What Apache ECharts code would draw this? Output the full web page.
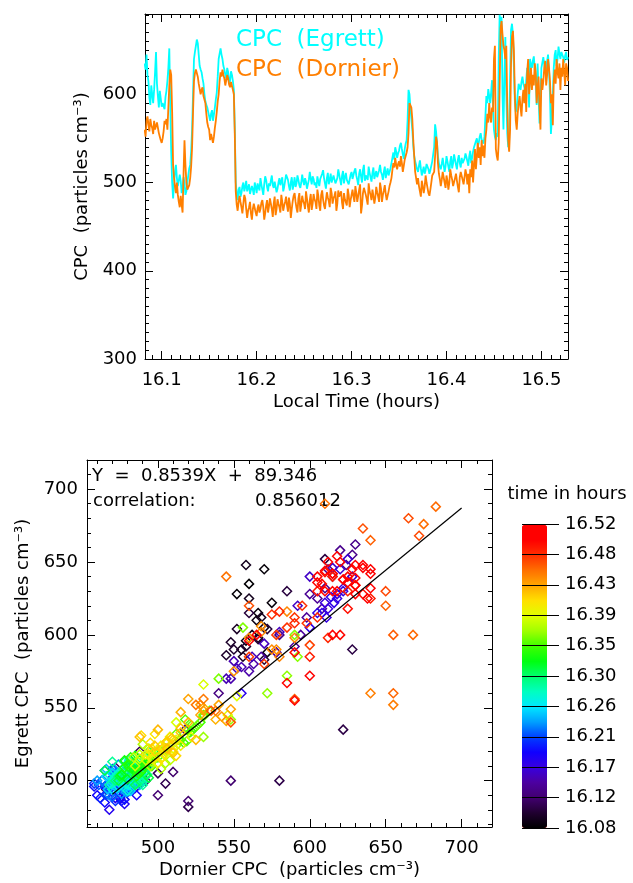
<!DOCTYPE html>
<html>
<head>
<meta charset="utf-8">
<script src="https://cdn.jsdelivr.net/npm/echarts@6/dist/echarts.min.js"></script>
<style>
  html, body { margin: 0; background: #fff; }
  #chart { width: 633px; height: 883px; }
</style>
</head>
<body>
<div id="chart"></div>
<script>
// local time of each sample (hours)
const times = [
  16.082,16.083,16.084,16.085,16.086,16.087,16.088,16.089,16.090,16.091,16.092,16.093,16.094,16.095,16.096,16.097,16.098,16.099,16.100,16.101,
  16.102,16.103,16.104,16.105,16.106,16.107,16.108,16.109,16.110,16.111,16.112,16.113,16.114,16.115,16.116,16.117,16.118,16.119,16.120,16.121,
  16.122,16.123,16.124,16.125,16.126,16.127,16.128,16.129,16.130,16.131,16.132,16.133,16.134,16.135,16.136,16.137,16.138,16.139,16.140,16.141,
  16.142,16.143,16.144,16.145,16.146,16.147,16.148,16.149,16.150,16.151,16.152,16.153,16.154,16.155,16.156,16.157,16.158,16.159,16.160,16.161,
  16.162,16.163,16.164,16.165,16.166,16.167,16.168,16.169,16.170,16.171,16.172,16.173,16.174,16.175,16.176,16.177,16.178,16.179,16.180,16.181,
  16.182,16.183,16.184,16.185,16.186,16.187,16.188,16.189,16.190,16.191,16.192,16.193,16.194,16.195,16.196,16.197,16.198,16.199,16.200,16.201,
  16.202,16.203,16.204,16.205,16.206,16.207,16.208,16.209,16.210,16.211,16.212,16.213,16.214,16.215,16.216,16.217,16.218,16.219,16.220,16.221,
  16.222,16.223,16.224,16.225,16.226,16.227,16.228,16.229,16.230,16.231,16.232,16.233,16.234,16.235,16.236,16.237,16.238,16.239,16.240,16.241,
  16.242,16.243,16.244,16.245,16.246,16.247,16.248,16.249,16.250,16.251,16.252,16.253,16.254,16.255,16.256,16.257,16.258,16.259,16.260,16.261,
  16.262,16.263,16.264,16.265,16.266,16.267,16.268,16.269,16.270,16.271,16.272,16.273,16.274,16.275,16.276,16.277,16.278,16.279,16.280,16.281,
  16.282,16.283,16.284,16.285,16.286,16.287,16.288,16.289,16.290,16.291,16.292,16.293,16.294,16.295,16.296,16.297,16.298,16.299,16.300,16.301,
  16.302,16.303,16.304,16.305,16.306,16.307,16.308,16.309,16.310,16.311,16.312,16.313,16.314,16.315,16.316,16.317,16.318,16.319,16.320,16.321,
  16.322,16.323,16.324,16.325,16.326,16.327,16.328,16.329,16.330,16.331,16.332,16.333,16.334,16.335,16.336,16.337,16.338,16.339,16.340,16.341,
  16.342,16.343,16.344,16.345,16.346,16.347,16.348,16.349,16.350,16.351,16.352,16.353,16.354,16.355,16.356,16.357,16.358,16.359,16.360,16.361,
  16.362,16.363,16.364,16.365,16.366,16.367,16.368,16.369,16.370,16.371,16.372,16.373,16.374,16.375,16.376,16.377,16.378,16.379,16.380,16.381,
  16.382,16.383,16.384,16.385,16.386,16.387,16.388,16.389,16.390,16.391,16.392,16.393,16.394,16.395,16.396,16.397,16.398,16.399,16.400,16.401,
  16.402,16.403,16.404,16.405,16.406,16.407,16.408,16.409,16.410,16.411,16.412,16.413,16.414,16.415,16.416,16.417,16.418,16.419,16.420,16.421,
  16.422,16.423,16.424,16.425,16.426,16.427,16.428,16.429,16.430,16.431,16.432,16.433,16.434,16.435,16.436,16.437,16.438,16.439,16.440,16.441,
  16.442,16.443,16.444,16.445,16.446,16.447,16.448,16.449,16.450,16.451,16.452,16.453,16.454,16.455,16.456,16.457,16.458,16.459,16.460,16.461,
  16.462,16.463,16.464,16.465,16.466,16.467,16.468,16.469,16.470,16.471,16.472,16.473,16.474,16.475,16.476,16.477,16.478,16.479,16.480,16.481,
  16.482,16.483,16.484,16.485,16.486,16.487,16.488,16.489,16.490,16.491,16.492,16.493,16.494,16.495,16.496,16.497,16.498,16.499,16.500,16.501,
  16.502,16.503,16.504,16.505,16.506,16.507,16.508,16.509,16.510,16.511,16.512,16.513,16.514,16.515,16.516,16.517,16.518,16.519,16.520,16.521,
  16.522,16.523,16.524,16.525,16.526,16.527,16.528
];

// CPC on the Egrett (particles cm-3)
const egrett = [
  635,628,645,622,615,596,588,610,600,590,605,625,648,612,598,585,604,595,586,590,
  592,583,597,604,615,630,652,590,535,500,482,498,512,520,505,496,498,509,502,488,
  494,506,500,486,490,500,508,516,520,535,560,600,640,648,655,662,658,645,632,628,
  625,618,612,600,592,588,585,580,575,570,578,582,570,577,585,594,602,620,640,646,
  652,645,640,632,628,622,618,630,625,612,615,626,622,615,605,560,500,488,480,492,
  495,484,488,496,500,490,495,502,490,494,498,487,485,496,492,486,500,495,488,499,
  497,491,505,498,492,486,498,507,503,495,490,499,496,502,508,497,494,501,500,489,
  493,500,505,497,498,506,490,495,502,509,511,503,496,491,500,506,492,498,506,495,
  499,508,503,497,494,500,509,502,497,505,501,493,495,503,512,504,498,507,504,497,
  500,494,507,501,496,504,503,510,514,505,499,493,505,511,498,503,510,500,502,508,
  506,499,497,505,515,509,503,497,508,513,499,506,511,503,504,498,500,509,512,504,
  505,513,516,508,503,497,510,515,507,500,514,520,502,508,509,503,518,511,506,501,
  511,517,504,509,513,506,507,514,520,512,509,503,512,518,505,511,516,508,510,516,
  522,528,534,526,540,535,528,533,536,542,545,538,532,527,538,544,548,570,605,600,
  585,572,560,542,530,524,520,515,512,519,525,516,508,513,518,510,514,521,522,515,
  510,514,519,524,526,540,566,558,545,530,522,518,515,521,528,520,512,518,530,524,
  518,512,524,530,516,522,532,526,520,515,526,531,522,517,528,522,520,527,533,529,
  524,519,530,536,522,528,535,540,542,547,550,541,545,552,556,549,548,544,552,575,
  598,590,606,598,590,602,616,585,560,552,548,556,552,640,690,676,688,600,560,620,
  665,600,556,540,548,620,673,680,668,630,593,580,585,600,612,608,605,614,620,612,
  608,598,616,630,625,585,640,634,630,638,643,628,618,588,635,600,567,596,630,636,
  642,634,625,630,638,645,628,600,555,572,600,630,645,650,632,640,654,646,640,648,
  650,642,636,644,648,639,642
];

// CPC on the Dornier (particles cm-3)
const dornier = [
  560,552,570,575,566,558,572,565,562,555,570,560,558,568,566,556,552,548,545,550,
  558,570,566,572,560,585,610,628,622,580,520,505,495,488,500,486,478,472,485,475,
  466,510,548,520,500,492,490,497,505,518,540,580,615,624,628,630,620,612,610,600,
  605,608,598,594,590,578,568,563,560,548,555,550,545,552,562,570,580,592,600,615,
  625,620,628,622,618,610,612,622,618,611,608,614,616,605,600,555,490,475,468,478,
  485,478,472,465,476,486,482,470,460,468,472,478,465,458,470,476,478,466,462,471,
  475,466,470,477,480,472,458,465,474,480,466,473,482,476,470,461,476,484,463,470,
  481,476,472,466,486,478,468,474,478,484,474,467,483,476,460,470,479,485,488,478,
  471,466,482,488,467,475,485,479,476,470,490,482,473,466,480,487,469,476,487,481,
  478,470,492,485,474,468,486,491,481,474,470,480,489,483,479,472,494,488,476,482,
  485,490,468,476,491,484,483,490,477,470,488,481,480,474,493,486,472,480,486,492,
  484,478,496,488,478,485,492,498,465,474,488,494,494,486,481,475,499,490,486,480,
  492,485,476,483,495,489,484,478,500,493,478,486,491,497,487,480,482,490,496,500,
  505,514,522,517,528,520,515,521,524,518,530,522,512,519,526,530,534,540,556,590,
  592,585,572,548,530,512,505,498,505,496,490,484,502,496,488,495,508,500,494,488,
  485,492,500,508,506,512,530,552,546,522,510,504,496,503,512,506,500,494,508,502,
  492,500,515,508,503,496,498,505,510,502,495,489,506,512,510,503,498,506,515,509,
  498,510,488,515,506,525,500,520,538,515,530,545,528,540,520,548,530,542,528,550,
  560,578,568,590,575,568,585,580,640,655,538,530,525,545,610,675,683,668,655,650,
  640,655,590,548,535,560,635,665,672,650,600,570,560,578,590,598,585,575,595,605,
  590,612,580,625,640,600,615,630,605,622,610,635,625,590,608,620,585,560,618,605,
  615,630,638,610,622,640,630,615,590,600,565,615,628,612,640,625,618,635,605,630,
  620,640,625,610,635,630,615
];

const timeTicks = [16.1, 16.2, 16.3, 16.4, 16.5];
const cpcTicks = [300, 400, 500, 600];
const scatterTicks = [500, 550, 600, 650, 700];
const colorbarLabels = ['16.08','16.12','16.17','16.21','16.26','16.30','16.35','16.39','16.43','16.48','16.52'];

const fitSlope = 0.8539;
const fitIntercept = 89.346;
const fitRange = [470, 700];
const correlation = '0.856012';

const rainbow = ['#000000','#200030','#420070','#4c00a0','#3800e0','#1000ff','#0040ff','#00a0ff',
  '#00e8ff','#00ffc0','#00ff70','#00ff10','#40ff00','#a0ff00','#e0ff00','#ffe000',
  '#ffa800','#ff7000','#ff3000','#ff0000','#ff0000'];

const FONT = 'DejaVu Sans';

function minorSteps(from, to, step) {
  const out = [];
  for (let v = from; v <= to + step / 2; v += step) out.push(+v.toFixed(4));
  return out;
}

// IDL style box: ticks on all four sides, major + minor, labels on the first side only
function boxAxes(dim, gridIndex, range, majors, minors, first) {
  const sides = dim === 'x' ? ['bottom', 'top'] : ['left', 'right'];
  const axes = [];
  sides.forEach(function (pos, s) {
    [[majors, 8], [minors, 4]].forEach(function (set, k) {
      const axis = {
        type: 'value', gridIndex: gridIndex, position: pos,
        min: range[0], max: range[1],
        splitLine: { show: false },
        axisLine: { show: k === 0, onZero: false, lineStyle: { color: '#000', width: 1 } },
        axisTick: { show: true, inside: true, length: set[1], customValues: set[0], lineStyle: { color: '#000', width: 1 } },
        axisLabel: { show: false }
      };
      if (s === 0 && k === 0) {
        axis.axisLabel = {
          show: true, customValues: majors, color: '#000', fontFamily: FONT, fontSize: 18,
          margin: first.margin, formatter: first.formatter
        };
        axis.name = first.name;
        axis.nameLocation = 'middle';
        axis.nameGap = first.nameGap;
        axis.nameTextStyle = { color: '#000', fontFamily: FONT, fontSize: 18 };
      }
      axes.push(axis);
    });
  });
  return axes;
}

const chart = echarts.init(document.getElementById('chart'));

const xAxes = [].concat(
  boxAxes('x', 0, [16.0824, 16.528], timeTicks, minorSteps(16.09, 16.52, 0.01),
    { name: 'Local Time (hours)', nameGap: 34, margin: 12, formatter: function (v) { return v.toFixed(1); } }),
  boxAxes('x', 1, [453.3, 720], scatterTicks, minorSteps(460, 710, 10),
    { name: 'Dornier CPC  (particles cm\u207B\u00B3)', nameGap: 34, margin: 12, formatter: function (v) { return String(v); } }),
  [{ type: 'value', gridIndex: 2, show: false, min: 0, max: 1 }]
);

const yAxes = [].concat(
  boxAxes('y', 0, [300, 691], cpcTicks, minorSteps(310, 690, 10),
    { name: 'CPC  (particles cm\u207B\u00B3)', nameGap: 52, margin: 8, formatter: function (v) { return String(v); } }),
  boxAxes('y', 1, [468.2, 720], scatterTicks, minorSteps(470, 710, 10),
    { name: 'Egrett CPC  (particles cm\u207B\u00B3)', nameGap: 39, margin: 9, formatter: function (v) { return String(v); } }),
  [{
    type: 'category', gridIndex: 2, data: colorbarLabels, boundaryGap: false, position: 'left', z: 10,
    axisLine: { show: false },
    axisTick: { show: true, inside: true, length: 37, interval: 0, lineStyle: { color: '#000' } },
    axisLabel: { inside: true, interval: 0, margin: 43, color: '#000', fontFamily: FONT, fontSize: 18 },
    splitLine: { show: false }
  }]
);

const scatterData = times.map(function (t, i) { return [dornier[i], egrett[i], t]; });

const option = {
  animation: false,
  backgroundColor: '#fff',
  textStyle: { fontFamily: FONT },
  grid: [
    { left: 145, top: 14, width: 423, height: 345 },
    { left: 87, top: 460, width: 405, height: 367 },
    { left: 522, top: 524, width: 37, height: 304 }
  ],
  xAxis: xAxes,
  yAxis: yAxes,
  visualMap: {
    type: 'continuous', seriesIndex: 2, dimension: 2,
    min: 16.0803, max: 16.5224,
    inRange: { color: rainbow },
    outOfRange: { color: ['#ff0000'] },
    calculable: false, hoverLink: false, z: 2,
    left: 522, top: 525, itemWidth: 25, itemHeight: 303, padding: 0
  },
  series: [
    {
      name: 'CPC (Egrett)', type: 'line', xAxisIndex: 0, yAxisIndex: 0,
      data: times.map(function (t, i) { return [t, egrett[i]]; }),
      showSymbol: false, symbol: 'none',
      lineStyle: { color: '#00ffff', width: 1.8 }, itemStyle: { color: '#00ffff' }
    },
    {
      name: 'CPC (Dornier)', type: 'line', xAxisIndex: 0, yAxisIndex: 0,
      data: times.map(function (t, i) { return [t, dornier[i]]; }),
      showSymbol: false, symbol: 'none',
      lineStyle: { color: '#ff7f00', width: 1.8 }, itemStyle: { color: '#ff7f00' }
    },
    {
      name: 'pairs', type: 'custom', xAxisIndex: 4, yAxisIndex: 4,
      data: scatterData,
      encode: { x: 0, y: 1 },
      clip: true,
      renderItem: function (params, api) {
        const p = api.coord([api.value(0), api.value(1)]);
        const r = 4.5;
        return {
          type: 'polygon',
          shape: { points: [[p[0], p[1] - r], [p[0] + r, p[1]], [p[0], p[1] + r], [p[0] - r, p[1]]] },
          style: { fill: 'none', stroke: api.visual('color'), lineWidth: 1.5 }
        };
      }
    },
    {
      name: 'fit', type: 'line', xAxisIndex: 4, yAxisIndex: 4,
      data: fitRange.map(function (x) { return [x, fitSlope * x + fitIntercept]; }),
      symbol: 'none', lineStyle: { color: '#000', width: 1.2 }
    }
  ],
  graphic: [
    { type: 'text', x: 236, y: 40, style: { text: 'CPC  (Egrett)', fill: '#00ffff', font: '23px "DejaVu Sans"', verticalAlign: 'middle' } },
    { type: 'text', x: 236, y: 70, style: { text: 'CPC  (Dornier)', fill: '#ff7f00', font: '23px "DejaVu Sans"', verticalAlign: 'middle' } },
    { type: 'text', x: 92, y: 476, style: { text: 'Y  =  ' + fitSlope + 'X  +  ' + fitIntercept, fill: '#000', font: '18px "DejaVu Sans"', verticalAlign: 'middle' } },
    { type: 'text', x: 93, y: 501, style: { text: 'correlation:', fill: '#000', font: '18px "DejaVu Sans"', verticalAlign: 'middle' } },
    { type: 'text', x: 255, y: 501, style: { text: correlation, fill: '#000', font: '18px "DejaVu Sans"', verticalAlign: 'middle' } },
    { type: 'text', x: 567, y: 494, style: { text: 'time in hours', fill: '#000', font: '18px "DejaVu Sans"', align: 'center', verticalAlign: 'middle' } }
  ]
};

chart.setOption(option);
</script>
</body>
</html>
